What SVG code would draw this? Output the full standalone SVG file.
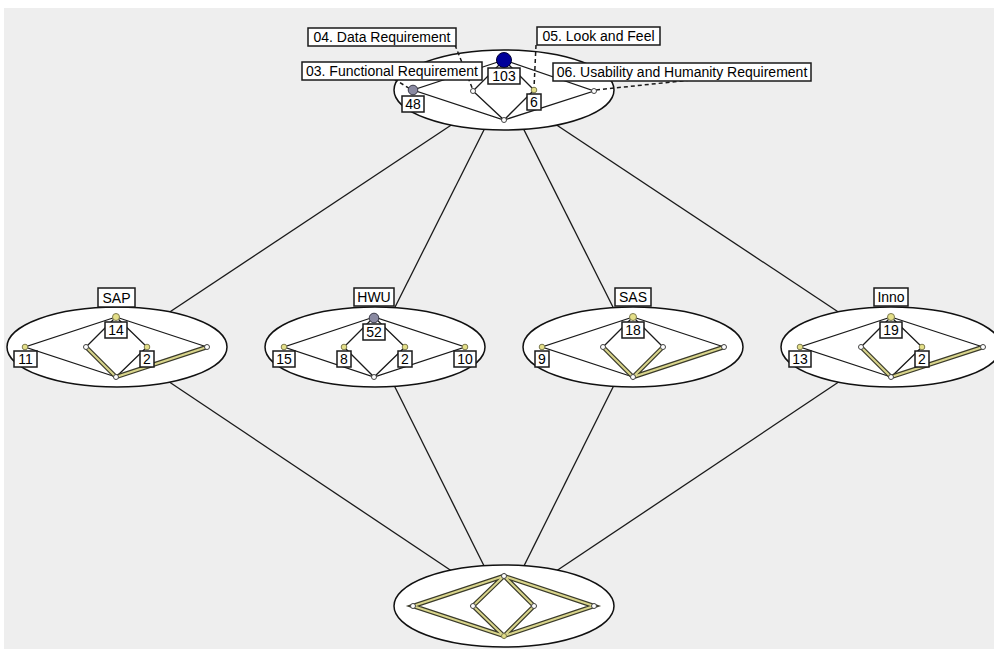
<svg xmlns="http://www.w3.org/2000/svg" width="994" height="649" viewBox="0 0 994 649">
  <style>
    .bg { fill: #eeeeee; }
    .link { stroke: #1a1a1a; stroke-width: 1.3; fill: none; }
    .shell { fill: #ffffff; stroke: #111111; stroke-width: 1.5; }
    .edge { stroke: #1a1a1a; stroke-width: 1.3; fill: none; stroke-linecap: round; }
    .hl-out { stroke: #3b3b2a; stroke-width: 4.5; fill: none; stroke-linecap: round; }
    .hl-in { stroke: #d9d58c; stroke-width: 2; fill: none; stroke-linecap: round; }
    .n0 { fill: #ffffff; stroke: #444444; stroke-width: 1; }
    .ny { fill: #e4df88; stroke: #7d7b50; stroke-width: 1; }
    .ng { fill: #8a8aa2; stroke: #3a3a48; stroke-width: 1; }
    .nb { fill: #00009a; stroke: #000033; stroke-width: 1; }
    .tag { fill: #ffffff; stroke: #1a1a1a; stroke-width: 1.5; }
    .txt { font-family: "Liberation Sans", Arial, sans-serif; font-size: 14px; fill: #000000; text-anchor: middle; }
    .lead { stroke: #1a1a1a; stroke-width: 1.5; stroke-dasharray: 4 3; fill: none; }
  </style>

  <rect class="bg" x="4" y="8" width="990" height="641"/>

  <!-- links between the lattices -->
  <g id="connectors">
    <line class="link" x1="504" y1="90" x2="117" y2="347"/>
    <line class="link" x1="504" y1="90" x2="375" y2="347"/>
    <line class="link" x1="504" y1="90" x2="633" y2="347"/>
    <line class="link" x1="504" y1="90" x2="891" y2="347"/>
    <line class="link" x1="117" y1="347" x2="504" y2="606"/>
    <line class="link" x1="375" y1="347" x2="504" y2="606"/>
    <line class="link" x1="633" y1="347" x2="504" y2="606"/>
    <line class="link" x1="891" y1="347" x2="504" y2="606"/>
  </g>

  <!-- top lattice -->
  <g id="top">
    <ellipse class="shell" cx="504" cy="90" rx="110" ry="40"/>
    <path class="edge" d="M504 60 L413 90 L504 120 L594 91 L504 60 L473 91 L504 120 L534 90 Z"/>
    <line class="lead" x1="455" y1="45" x2="473" y2="90"/>
    <line class="lead" x1="394" y1="79" x2="412" y2="90"/>
    <line class="lead" x1="536" y1="45" x2="534" y2="88"/>
    <line class="lead" x1="596" y1="90" x2="700" y2="79"/>
    <circle class="n0" cx="504" cy="120" r="2.5"/>
    <circle class="n0" cx="473" cy="91" r="2.5"/>
    <circle class="n0" cx="594" cy="91" r="2.5"/>
    <circle class="ny" cx="534" cy="90" r="2.8"/>
    <circle class="ng" cx="413" cy="90" r="4.8"/>
    <circle class="nb" cx="504" cy="60" r="7.5"/>
    <rect class="tag" x="488" y="68" width="32" height="16"/>
    <text class="txt" x="504" y="81">103</text>
    <rect class="tag" x="402" y="96" width="22" height="16"/>
    <text class="txt" x="413" y="109">48</text>
    <rect class="tag" x="527" y="94" width="14" height="16"/>
    <text class="txt" x="534" y="107">6</text>
    <rect class="tag" x="308" y="28" width="148" height="18"/>
    <text class="txt" x="382" y="42">04. Data Requirement</text>
    <rect class="tag" x="302" y="62" width="180" height="18"/>
    <text class="txt" x="392" y="76">03. Functional Requirement</text>
    <rect class="tag" x="537" y="27" width="123" height="18"/>
    <text class="txt" x="598.5" y="41">05. Look and Feel</text>
    <rect class="tag" x="553" y="63" width="258" height="18"/>
    <text class="txt" x="682" y="77">06. Usability and Humanity Requirement</text>
  </g>

  <!-- SAP lattice -->
  <g id="sap">
    <ellipse class="shell" cx="117" cy="347" rx="110" ry="40"/>
    <path class="edge" d="M116 317 L25 347 L116 377 M116 317 L86 347 M116 317 L147 347 L116 377 M116 317 L207 347"/>
    <path class="hl-out" d="M86 347 L116 377 L207 347"/>
    <path class="hl-in" d="M86 347 L116 377 L207 347"/>
    <circle class="n0" cx="86" cy="347" r="2.5"/>
    <circle class="n0" cx="207" cy="347" r="2.5"/>
    <circle class="n0" cx="116" cy="377" r="2.5"/>
    <circle class="ny" cx="25" cy="347" r="2.8"/>
    <circle class="ny" cx="147" cy="347" r="2.8"/>
    <circle class="ny" cx="116" cy="317" r="3.5"/>
    <rect class="tag" x="98" y="288" width="37" height="19"/>
    <text class="txt" x="116.5" y="303">SAP</text>
    <rect class="tag" x="105" y="322" width="22" height="16"/>
    <text class="txt" x="116" y="335">14</text>
    <rect class="tag" x="14" y="351" width="23" height="16"/>
    <text class="txt" x="25.5" y="364">11</text>
    <rect class="tag" x="140" y="351" width="14" height="16"/>
    <text class="txt" x="147" y="364">2</text>
  </g>

  <!-- HWU lattice -->
  <g id="hwu">
    <ellipse class="shell" cx="375" cy="347" rx="110" ry="40"/>
    <path class="edge" d="M374 317 L284 347 L374 377 L465 347 L374 317 L344 347 L374 377 L405 347 Z"/>
    <circle class="n0" cx="374" cy="377" r="2.5"/>
    <circle class="ny" cx="284" cy="347" r="2.8"/>
    <circle class="ny" cx="344" cy="347" r="2.8"/>
    <circle class="ny" cx="405" cy="347" r="2.8"/>
    <circle class="ny" cx="465" cy="347" r="2.8"/>
    <circle class="ng" cx="374" cy="318" r="4.8"/>
    <rect class="tag" x="354" y="288" width="40" height="18"/>
    <text class="txt" x="374" y="302">HWU</text>
    <rect class="tag" x="363" y="324" width="22" height="16"/>
    <text class="txt" x="374" y="337">52</text>
    <rect class="tag" x="273" y="351" width="22" height="16"/>
    <text class="txt" x="284" y="364">15</text>
    <rect class="tag" x="337" y="351" width="14" height="16"/>
    <text class="txt" x="344" y="364">8</text>
    <rect class="tag" x="398" y="351" width="14" height="16"/>
    <text class="txt" x="405" y="364">2</text>
    <rect class="tag" x="454" y="351" width="22" height="16"/>
    <text class="txt" x="465" y="364">10</text>
  </g>

  <!-- SAS lattice -->
  <g id="sas">
    <ellipse class="shell" cx="633" cy="347" rx="110" ry="40"/>
    <path class="edge" d="M633 317 L542 347 L633 377 M633 317 L603 347 M633 317 L663 347 M633 317 L724 347"/>
    <path class="hl-out" d="M603 347 L633 377 L663 347 M633 377 L724 347"/>
    <path class="hl-in" d="M603 347 L633 377 L663 347 M633 377 L724 347"/>
    <circle class="n0" cx="603" cy="347" r="2.5"/>
    <circle class="n0" cx="663" cy="347" r="2.5"/>
    <circle class="n0" cx="724" cy="347" r="2.5"/>
    <circle class="n0" cx="633" cy="377" r="2.5"/>
    <circle class="ny" cx="542" cy="347" r="2.8"/>
    <circle class="ny" cx="633" cy="317" r="3.5"/>
    <rect class="tag" x="615" y="288" width="36" height="18"/>
    <text class="txt" x="633" y="302">SAS</text>
    <rect class="tag" x="622" y="322" width="22" height="16"/>
    <text class="txt" x="633" y="335">18</text>
    <rect class="tag" x="535" y="351" width="14" height="16"/>
    <text class="txt" x="542" y="364">9</text>
  </g>

  <!-- Inno lattice -->
  <g id="inno">
    <ellipse class="shell" cx="891" cy="347" rx="110" ry="40"/>
    <path class="edge" d="M891 317 L800 347 L891 377 M891 317 L861 347 M891 317 L922 347 L891 377 M891 317 L983 347"/>
    <path class="hl-out" d="M861 347 L891 377 L983 347"/>
    <path class="hl-in" d="M861 347 L891 377 L983 347"/>
    <circle class="n0" cx="861" cy="347" r="2.5"/>
    <circle class="n0" cx="983" cy="347" r="2.5"/>
    <circle class="n0" cx="891" cy="377" r="2.5"/>
    <circle class="ny" cx="800" cy="347" r="2.8"/>
    <circle class="ny" cx="922" cy="347" r="2.8"/>
    <circle class="ny" cx="891" cy="317" r="3.5"/>
    <rect class="tag" x="874" y="288" width="34" height="18"/>
    <text class="txt" x="891" y="302">Inno</text>
    <rect class="tag" x="880" y="322" width="22" height="16"/>
    <text class="txt" x="891" y="335">19</text>
    <rect class="tag" x="789" y="351" width="22" height="16"/>
    <text class="txt" x="800" y="364">13</text>
    <rect class="tag" x="915" y="351" width="14" height="16"/>
    <text class="txt" x="922" y="364">2</text>
  </g>

  <!-- bottom lattice -->
  <g id="bottom">
    <ellipse class="shell" cx="504" cy="606" rx="110" ry="41"/>
    <path class="hl-out" d="M504 576 L413 606 L504 636 L594 606 Z M504 576 L473 606 L504 636 L534 606 Z"/>
    <path class="hl-in" d="M504 576 L413 606 L504 636 L594 606 Z M504 576 L473 606 L504 636 L534 606 Z"/>
    <circle class="n0" cx="504" cy="576" r="2.5"/>
    <circle class="n0" cx="413" cy="606" r="2.5"/>
    <circle class="n0" cx="473" cy="606" r="2.5"/>
    <circle class="n0" cx="534" cy="606" r="2.5"/>
    <circle class="n0" cx="594" cy="606" r="2.5"/>
    <circle class="ny" cx="504" cy="636" r="2.5"/>
  </g>
</svg>
